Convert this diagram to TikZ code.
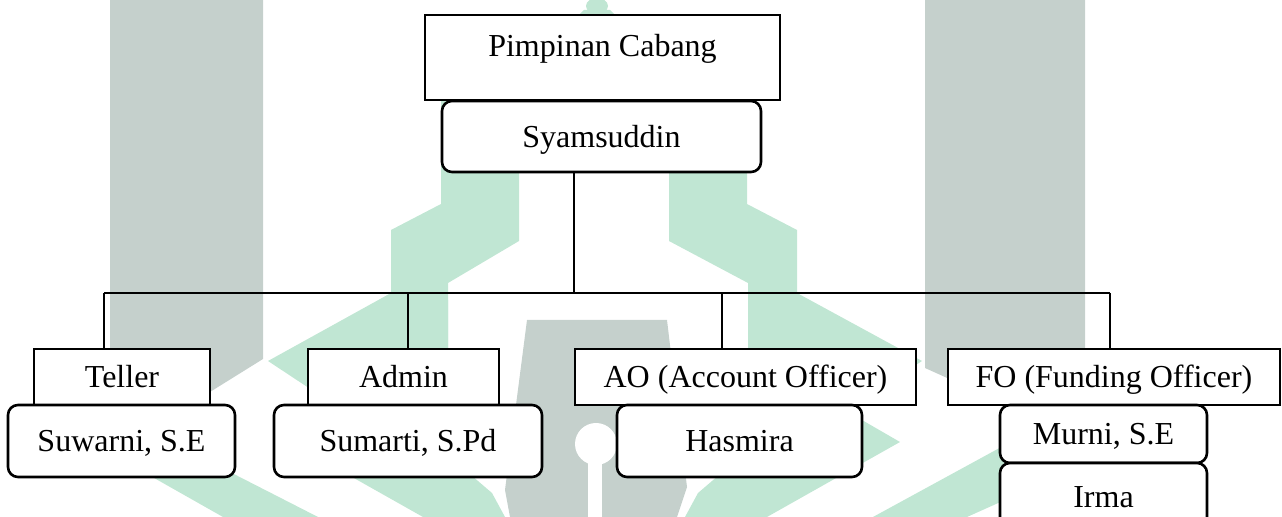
\documentclass[tikz,border=0pt]{standalone}
\usepackage{fontspec}
\setmainfont{Liberation Serif}
\definecolor{wmgreen}{RGB}{192,230,211}
\definecolor{wmgrey}{RGB}{197,208,204}

\begin{document}
\begin{tikzpicture}[
      x=0.5pt, y=-0.5pt,
      every node/.style={align=center, font=\fontsize{16}{19}\selectfont},
      jabatan/.style={draw, line width=1.3pt, fill=white, inner sep=0pt, text height=10.8pt, text depth=0pt},
      pejabat/.style={draw, line width=1.3pt, fill=white, rounded corners=5pt, inner sep=0pt, text height=10.8pt, text depth=0pt},
      garis/.style={line width=0.6pt}
    ]
      \useasboundingbox (0,0) rectangle (1282,517);

      % Logo in the background
      \fill[wmgrey] (110,0) -- (263,0) -- (263,359) -- (210,392) -- (110,392) -- cycle;
      \fill[wmgrey] (925,0) -- (1085,0) -- (1085,395) -- (985,395) -- (925,368) -- cycle;
      \fill[wmgreen] (597,6) ellipse (11 and 8);
      \fill[wmgreen] (578,16) -- (584,10) -- (610,10) -- (616,16) -- cycle;
      \fill[wmgreen] (441,100) -- (519,100) -- (519,241) -- (448,283) -- (448,352)
        -- (391,352) -- (391,230) -- (441,204) -- cycle;
      \fill[wmgreen] (669,100) -- (747,100) -- (747,204) -- (797,230) -- (797,352)
        -- (748,352) -- (748,283) -- (669,241) -- cycle;
      \fill[wmgreen] (391,293) -- (448,300) -- (448,352) -- (330,402) -- (268,361) -- cycle;
      \fill[wmgreen] (797,293) -- (922,361) -- (860,402) -- (748,352) -- (748,300) -- cycle;
      \fill[wmgreen] (380,390) -- (290,442) -- (423,517) -- (505,517) -- (492,493) -- (430,440) -- cycle;
      \fill[wmgreen] (810,390) -- (900,442) -- (767,517) -- (685,517) -- (698,493) -- (760,440) -- cycle;
      \fill[wmgreen] (140,470) -- (226,470) -- (318,517) -- (223,517) -- cycle;
      \fill[wmgreen] (873,517) -- (1005,445) -- (1005,500) -- (967,517) -- cycle;
      \fill[wmgrey] (527,320) -- (667,320) -- (687,487) -- (677,517) -- (510,517) -- (505,490) -- cycle;
      \fill[white] (596,444) circle (21);
      \fill[white] (588,444) rectangle (602,517);

      % Top of the chart
      \node[jabatan, minimum width=177.5pt, text height=21pt, text depth=21.5pt, anchor=base]
        (pimpinan) at (602.5,57) {Pimpinan Cabang};
      \node[pejabat, minimum width=159.5pt, minimum height=35.5pt] (syamsuddin) at (601.5,136.5) {Syamsuddin};

      % Positions
      \node[jabatan, minimum width=88pt, minimum height=28pt] (teller) at (122,377) {Teller};
      \node[jabatan, minimum width=95.5pt, minimum height=28pt] (admin) at (403.5,377) {Admin};
      \node[jabatan, minimum width=170.5pt, minimum height=28pt] (ao) at (745.5,377) {AO (Account Officer)};
      \node[jabatan, minimum width=166pt, minimum height=28pt] (fo) at (1114,377) {FO (Funding Officer)};

      % Staff names
      \node[pejabat, minimum width=113.5pt, minimum height=36pt] (suwarni) at (121.5,441) {Suwarni, S.E};
      \node[pejabat, minimum width=134pt, minimum height=36pt] (sumarti) at (408,441) {Sumarti, S.Pd};
      \node[pejabat, minimum width=122.5pt, minimum height=36pt] (hasmira) at (739.5,441) {Hasmira};
      \node[pejabat, minimum width=103.5pt, minimum height=29pt] (murni) at (1103.5,434) {Murni, S.E};
      \node[pejabat, minimum width=103.5pt, minimum height=34pt] (irma) at (1103.5,497) {Irma};

      % Lines
      \coordinate (bus) at (574,293);
      \draw[garis] (syamsuddin.south -| bus) -- (bus);
      \foreach \x/\n in {104/teller, 408/admin, 722/ao, 1110/fo} {
        \coordinate (cab-\n) at (\x,293);
        \draw[garis] (cab-\n) -- (cab-\n |- \n.north);
      }
      \draw[garis] (cab-teller) -- (cab-fo);
    \end{tikzpicture}
\end{document}
